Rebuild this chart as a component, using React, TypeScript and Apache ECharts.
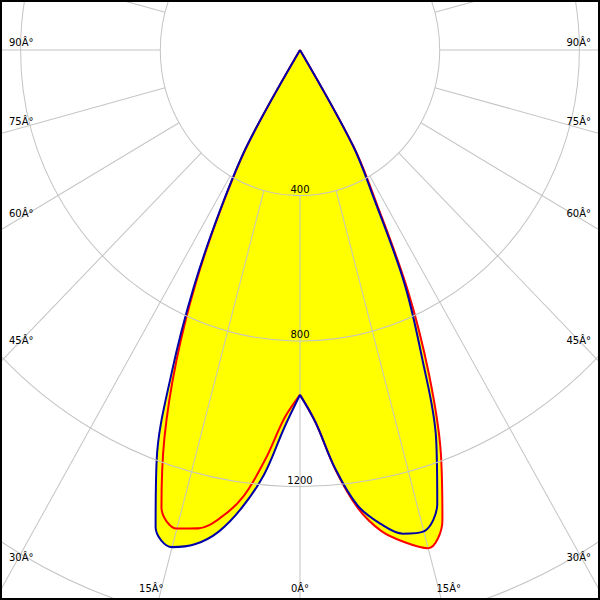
import React, { useEffect, useRef } from "react";
import * as echarts from "echarts";

// Gamma angles (degrees from nadir) at which intensities were read
const ANGLES = [0, 2.5, 5, 7.5, 10, 12.5, 15, 17.5, 20, 22.5, 25, 27.5, 30, 32.5, 35, 40, 45, 50, 55, 60, 65, 70, 75, 80, 85, 90];
// C0-C180 plane (red), left half and right half, cd
const RED_LEFT = [948, 1012, 1128, 1237, 1305, 1347, 1362, 1319, 1135, 925, 705, 485, 295, 0, 0, 0, 0, 0, 0, 0, 0, 0, 0, 0, 0, 0];
const RED_RIGHT = [948, 1025, 1157, 1270, 1343, 1386, 1418, 1356, 1179, 965, 732, 472, 305, 0, 0, 0, 0, 0, 0, 0, 0, 0, 0, 0, 0, 0];
// C90-C270 plane (blue)
const BLUE_LEFT = [948, 1040, 1170, 1268, 1345, 1392, 1415, 1375, 1200, 960, 721, 491, 300, 0, 0, 0, 0, 0, 0, 0, 0, 0, 0, 0, 0, 0];
const BLUE_RIGHT = [948, 1025, 1155, 1263, 1322, 1362, 1370, 1307, 1140, 910, 707, 455, 300, 0, 0, 0, 0, 0, 0, 0, 0, 0, 0, 0, 0, 0];

const ANGLE_TICKS = [0, 15, 30, 45, 60, 75, 90];
const RADIUS_LABELS = [400, 800, 1200];
const RADIUS_MAX = 2000;
const RADIUS_STEP = 400;
const GRID_ANGLE_STEP = 15;

// layout (reference is stretched vertically)
const STRETCH = 1.0415;
const W = 600;
const H_PRE = 600 / STRETCH;
const CX = 300;
const CY_POST = 50;
const PX_PER_STEP = 139.7;
const SMOOTH = 0.35;

// one half of a C-plane: side -1 = right (angles 360-g), +1 = left (angles g)
function half(values: number[], side: number) {
  return ANGLES.map((g, i) => [values[i], side > 0 ? g : (360 - g) % 360]);
}

function angleLabels() {
  const out: any[] = [];
  ANGLE_TICKS.forEach((a) => {
    const sides = a === 0 ? [0] : [-1, 1];
    sides.forEach((s) => {
      const rad = (a * Math.PI) / 180;
      const bx = CX + ((s * Math.tan(rad)) / STRETCH) * (628 - CY_POST);
      const text = `${a}Â°`;
      const common = { fill: "#000", fontSize: 10, fontFamily: "DejaVu Sans", text };
      if (Math.abs(bx - CX) <= 279) {
        out.push({
          type: "text",
          x: bx,
          y: 588 / STRETCH,
          style: { ...common, align: "center", verticalAlign: "middle" },
          z: 100,
        });
      } else {
        const c = Math.cos(rad);
        const sn = Math.sin(rad);
        const y = CY_POST + (279 * STRETCH * c) / sn + (-8 + 16 * c * c);
        out.push({
          type: "text",
          x: s < 0 ? 9 : 591,
          y: y / STRETCH,
          style: { ...common, align: s < 0 ? "left" : "right", verticalAlign: "middle" },
          z: 100,
        });
      }
    });
  });
  return out;
}

export default function App() {
  const ref = useRef<HTMLDivElement>(null);
  useEffect(() => {
    if (!ref.current) return;
    const chart = echarts.init(ref.current, undefined, { renderer: "svg" });
    const gridAngles: number[] = [];
    for (let a = 0; a < 360; a += GRID_ANGLE_STEP) gridAngles.push(a);
    const radialSeries = gridAngles.map((a) => ({
      type: "line",
      coordinateSystem: "polar",
      data: [
        [RADIUS_STEP, a],
        [RADIUS_MAX, a],
      ],
      symbol: "none",
      silent: true,
      lineStyle: { color: "#c4c4c4", width: 1 },
      z: 1,
    }));
    const fill = (data: number[][]) => ({
      type: "line",
      coordinateSystem: "polar",
      data,
      symbol: "none",
      silent: true,
      smooth: SMOOTH,
      lineStyle: { width: 0, opacity: 0 },
      areaStyle: { color: "#ffff00", opacity: 1 },
      z: -1,
    });
    const stroke = (data: number[][], color: string, z: number) => ({
      type: "line",
      coordinateSystem: "polar",
      data,
      symbol: "none",
      silent: true,
      smooth: SMOOTH,
      lineStyle: { color, width: 2 },
      z,
    });
    const redL = half(RED_LEFT, 1);
    const redR = half(RED_RIGHT, -1);
    const blueL = half(BLUE_LEFT, 1);
    const blueR = half(BLUE_RIGHT, -1);
    chart.setOption({
      animation: false,
      polar: { center: [CX, CY_POST / STRETCH], radius: (RADIUS_MAX / RADIUS_STEP) * PX_PER_STEP },
      angleAxis: {
        type: "value",
        min: 0,
        max: 360,
        startAngle: 270,
        clockwise: true,
        axisLine: { show: false },
        axisTick: { show: false },
        axisLabel: { show: false },
        splitLine: { show: false },
      },
      radiusAxis: {
        type: "value",
        min: 0,
        max: RADIUS_MAX,
        interval: RADIUS_STEP,
        axisLine: { show: false },
        axisTick: { show: false },
        splitLine: { show: true, lineStyle: { color: "#c4c4c4", width: 1 } },
        axisLabel: {
          formatter: (v: number) => (RADIUS_LABELS.includes(v) ? String(v) : ""),
          margin: 0,
          align: "center",
          verticalAlign: "bottom",
          padding: [0, 0, 1, 0],
          color: "#000",
          fontSize: 10,
          fontFamily: "DejaVu Sans",
        },
        z: 5,
      },
      series: [
        fill(redL),
        fill(redR),
        fill(blueL),
        fill(blueR),
        ...radialSeries,
        stroke(redL, "#ff0000", 3),
        stroke(redR, "#ff0000", 3),
        stroke(blueL, "#0000a8", 4),
        stroke(blueR, "#0000a8", 4),
      ],
      graphic: angleLabels(),
    });
    return () => chart.dispose();
  }, []);
  return (
    <div style={{ position: "fixed", left: 0, top: 0, width: W, height: 600, overflow: "hidden", background: "#fff" }}>
      <div
        ref={ref}
        style={{ width: W, height: H_PRE, transform: `scaleY(${STRETCH})`, transformOrigin: "0 0" }}
      />
      <div
        style={{
          position: "absolute",
          left: 0,
          top: 0,
          width: W,
          height: 600,
          boxSizing: "border-box",
          border: "2px solid #000",
          pointerEvents: "none",
        }}
      />
    </div>
  );
}
